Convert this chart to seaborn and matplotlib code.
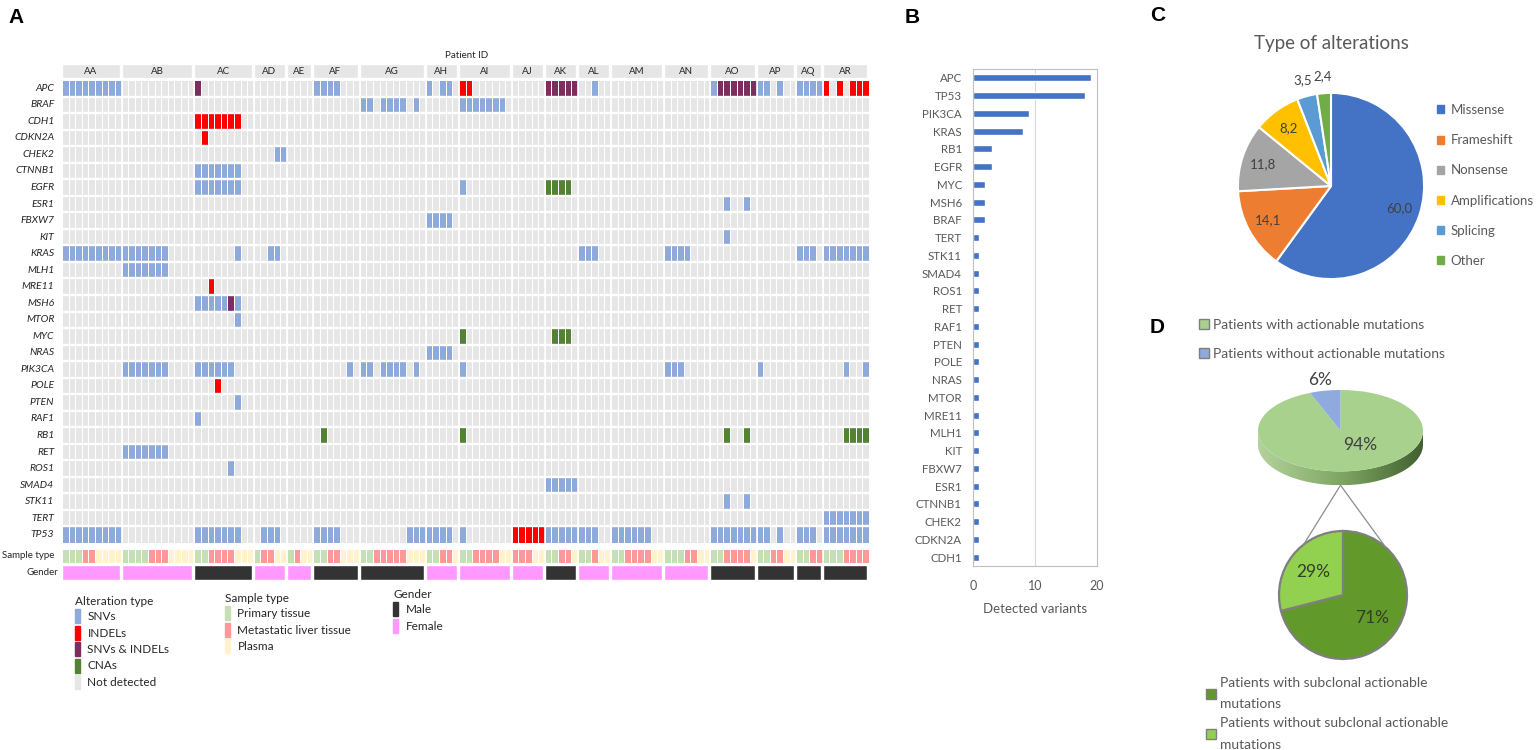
import numpy as np
import pandas as pd
import matplotlib
matplotlib.use("Agg")
import matplotlib.pyplot as plt
from matplotlib.colors import ListedColormap, LinearSegmentedColormap
from matplotlib.patches import Patch, Polygon, ConnectionPatch
import seaborn as sns

# ---------------- panel A data ----------------
patients = ["AA", "AB", "AC", "AD", "AE", "AF", "AG", "AH", "AI",
            "AJ", "AK", "AL", "AM", "AN", "AO", "AP", "AQ", "AR"]
# one letter per sample: G primary tissue, M metastatic liver tissue, P plasma
sample_type = ["GGGMMPPPP", "GGGGMMMPPPP", "GGMMMMPPP", "GMMPP", "GMPP", "GGMMPPP",
               "GGMMMMMPPP", "GGMMP", "GGMMMMPP", "MMMPP", "GGMMP", "GGMPP",
               "GGMMMMPP", "GGGMMPP", "GGMMMMP", "GGMMPP", "GGMM", "GGGMMMM"]
gender = ["F", "F", "M", "F", "F", "M", "M", "F", "F",
          "F", "M", "F", "F", "F", "M", "M", "M", "M"]
genes = ["APC", "BRAF", "CDH1", "CDKN2A", "CHEK2", "CTNNB1", "EGFR", "ESR1", "FBXW7",
         "KIT", "KRAS", "MLH1", "MRE11", "MSH6", "MTOR", "MYC", "NRAS", "PIK3CA",
         "POLE", "PTEN", "RAF1", "RB1", "RET", "ROS1", "SMAD4", "STK11", "TERT", "TP53"]
# gene, patient, per-sample pattern (s SNV, i INDEL, b SNV & INDEL, c CNA, . none)
hits = [
    ("APC", "AA", "sssssssss"), ("APC", "AC", "b"), ("APC", "AF", "ssss"),
    ("APC", "AH", "s.ss"), ("APC", "AI", "ii"), ("APC", "AK", "bbbbb"),
    ("APC", "AL", "..s"), ("APC", "AO", "sbbbbbb"), ("APC", "AP", "ss.s"),
    ("APC", "AQ", "ssss"), ("APC", "AR", "i.i.iii"),
    ("BRAF", "AG", "ss.ssss.s"), ("BRAF", "AI", "sssssss"),
    ("CDH1", "AC", "iiiiiii"),
    ("CDKN2A", "AC", ".i"),
    ("CHEK2", "AD", "...ss"),
    ("CTNNB1", "AC", "sssssss"),
    ("EGFR", "AC", "sssssss"), ("EGFR", "AI", "s"), ("EGFR", "AK", "cccc"),
    ("ESR1", "AO", "..s..s"),
    ("FBXW7", "AH", "ssss"),
    ("KIT", "AO", "..s"),
    ("KRAS", "AA", "sssssssss"), ("KRAS", "AB", "sssssss"), ("KRAS", "AC", "......s"),
    ("KRAS", "AD", "..ss"), ("KRAS", "AL", "sss"), ("KRAS", "AN", "ssss"),
    ("KRAS", "AQ", "sss"), ("KRAS", "AR", "sssssss"),
    ("MLH1", "AB", "sssssss"),
    ("MRE11", "AC", "..i"),
    ("MSH6", "AC", "sssssbs"),
    ("MTOR", "AC", "......s"),
    ("MYC", "AI", "c"), ("MYC", "AK", ".ccc"),
    ("NRAS", "AH", "ssss"),
    ("PIK3CA", "AB", "sssssss"), ("PIK3CA", "AC", "ssssss"), ("PIK3CA", "AF", ".....s"),
    ("PIK3CA", "AG", "ss.ssss.s"), ("PIK3CA", "AI", "s"), ("PIK3CA", "AN", "sss"),
    ("PIK3CA", "AP", "s"), ("PIK3CA", "AR", "...s..s"),
    ("POLE", "AC", "...i"),
    ("PTEN", "AC", "......s"),
    ("RAF1", "AC", "s"),
    ("RB1", "AF", ".c"), ("RB1", "AI", "c"), ("RB1", "AO", "..c..c"), ("RB1", "AR", "...cccc"),
    ("RET", "AB", "sssssss"),
    ("ROS1", "AC", ".....s"),
    ("SMAD4", "AK", "sssss"),
    ("STK11", "AO", "..s..s"),
    ("TERT", "AR", "sssssss"),
    ("TP53", "AA", "sssssssss"), ("TP53", "AC", "sssssss"), ("TP53", "AD", ".sss"),
    ("TP53", "AF", "ssss"), ("TP53", "AG", ".......sss"), ("TP53", "AH", "ssss"),
    ("TP53", "AI", "s"), ("TP53", "AJ", "iiiii"), ("TP53", "AK", "sssss"),
    ("TP53", "AL", "sss"), ("TP53", "AM", "ssssss"), ("TP53", "AO", "sssssss"),
    ("TP53", "AP", "ss.s"), ("TP53", "AQ", "sss"), ("TP53", "AR", "sssssss"),
]
alt_names = ["SNVs", "INDELs", "SNVs & INDELs", "CNAs", "Not detected"]
st_names = ["Primary tissue", "Metastatic liver tissue", "Plasma"]

# ---------------- panel B data ----------------
b_genes = ["APC", "TP53", "PIK3CA", "KRAS", "RB1", "EGFR", "MYC", "MSH6", "BRAF", "TERT",
           "STK11", "SMAD4", "ROS1", "RET", "RAF1", "PTEN", "POLE", "NRAS", "MTOR",
           "MRE11", "MLH1", "KIT", "FBXW7", "ESR1", "CTNNB1", "CHEK2", "CDKN2A", "CDH1"]
b_counts = [19, 18, 9, 8, 3, 3, 2, 2, 2, 1, 1, 1, 1, 1, 1, 1, 1, 1, 1, 1, 1, 1, 1, 1, 1, 1, 1, 1]

# ---------------- panel C data ----------------
alt_types = ["Missense", "Frameshift", "Nonsense", "Amplifications", "Splicing", "Other"]
alt_pct = [60.0, 14.1, 11.8, 8.2, 3.5, 2.4]

# ---------------- panel D data ----------------
act_labels = ["Patients with actionable mutations", "Patients without actionable mutations"]
act_pct = [94, 6]
sub_labels = ["Patients with subclonal actionable\nmutations",
              "Patients without subclonal actionable\nmutations"]
sub_pct = [71, 29]

# colours
alt_colors = ["#e7e6e6", "#8eaadb", "#ff0000", "#7e2d5e", "#548235"]
st_colors = ["#c5e0b4", "#ff9999", "#fff2cc"]
gender_colors = {"M": "#333333", "F": "#ff99ff"}
pie_colors = ["#4472c4", "#ed7d31", "#a5a5a5", "#ffc000", "#5b9bd5", "#70ad47"]

sns.set_style("white")
plt.rcParams["font.family"] = ["Lato", "DejaVu Sans"]

W, H = 1536, 750
fig = plt.figure(figsize=(W / 100, H / 100), dpi=100)


def px(x0, y0, x1, y1):
    return [x0 / W, 1 - y1 / H, (x1 - x0) / W, (y1 - y0) / H]


# ---------------- A: oncoprint ----------------
sizes = np.array([len(s) for s in sample_type])
starts = np.concatenate([[0], np.cumsum(sizes)[:-1]])
ncol = sizes.sum()
code = {".": 0, "s": 1, "i": 2, "b": 3, "c": 4}
mat = np.zeros((len(genes), ncol))
for g, p, pat in hits:
    k = patients.index(p)
    for j, ch in enumerate(pat[:sizes[k]]):
        mat[genes.index(g), starts[k] + j] = code[ch]
df = pd.DataFrame(mat, index=genes)

axA = fig.add_axes(px(62, 80, 869, 543))
sns.heatmap(df, ax=axA, cmap=ListedColormap(alt_colors), vmin=-0.5, vmax=4.5, cbar=False,
            linewidths=0.5, linecolor="white", xticklabels=False, yticklabels=True)
for r in range(1, len(genes)):
    axA.axhline(r, color="white", lw=1.7)
for b in starts[1:]:
    axA.axvline(b, color="white", lw=1.2)
axA.tick_params(left=False, pad=2)
for t in axA.get_yticklabels():
    t.set_rotation(0)
    t.set_fontstyle("italic")
    t.set_fontsize(7.5)
    t.set_color("#262626")

st_code = {"G": 0, "M": 1, "P": 2}
st = pd.DataFrame([[st_code[c] for c in "".join(sample_type)]], index=["Sample type"])
axS = fig.add_axes(px(62, 549, 869, 563))
sns.heatmap(st, ax=axS, cmap=ListedColormap(st_colors), vmin=-0.5, vmax=2.5, cbar=False,
            linewidths=0.5, linecolor="white", xticklabels=False, yticklabels=True)
for b in starts[1:]:
    axS.axvline(b, color="white", lw=1.2)
axS.tick_params(left=False, pad=2)
for t in axS.get_yticklabels():
    t.set_rotation(0)
    t.set_fontsize(7)
    t.set_color("#262626")

axG = fig.add_axes(px(62, 565, 869, 580))
axG.bar(starts, 1, width=sizes - 0.3, align="edge", color=[gender_colors[g] for g in gender])
axG.set_xlim(0, ncol)
axG.set_ylim(0, 1)
axG.axis("off")
axG.text(-0.5, 0.5, "Gender", ha="right", va="center", fontsize=7, color="#262626")

axH = fig.add_axes(px(62, 64, 869, 78))
axH.bar(starts, 1, width=sizes - 0.3, align="edge", color="#e7e6e6")
for s0, n, p in zip(starts, sizes, patients):
    axH.text(s0 + (n - 0.3) / 2, 0.5, p, ha="center", va="center", fontsize=7, color="#262626")
axH.set_xlim(0, ncol)
axH.set_ylim(0, 1)
axH.axis("off")
fig.text(467 / W, 1 - 55 / H, "Patient ID", ha="center", va="center", fontsize=7, color="#262626")

leg_kw = dict(loc="upper left", frameon=False, fontsize=8.5, title_fontsize=8.5,
              handlelength=0.45, handleheight=1.45, handletextpad=0.6, labelspacing=0.2,
              borderpad=0, borderaxespad=0, alignment="left", labelcolor="#262626")
fig.legend(handles=[Patch(color=alt_colors[i], label=n) for i, n in zip([1, 2, 3, 4, 0], alt_names)],
           bbox_to_anchor=(75 / W, 1 - 596 / H), title="Alteration type", **leg_kw)
fig.legend(handles=[Patch(color=c, label=n) for c, n in zip(st_colors, st_names)],
           bbox_to_anchor=(225 / W, 1 - 593 / H), title="Sample type", **leg_kw)
fig.legend(handles=[Patch(color=gender_colors["M"], label="Male"),
                    Patch(color=gender_colors["F"], label="Female")],
           bbox_to_anchor=(393 / W, 1 - 589 / H), title="Gender", **leg_kw)

# ---------------- B: detected variants ----------------
axB = fig.add_axes(px(973, 69, 1097, 566))
sns.barplot(x=b_counts, y=b_genes, orient="h", color="#4472c4", saturation=1, width=0.4, ax=axB)
axB.set_xlim(0, 20)
axB.set_xticks([0, 10, 20])
axB.axvline(10, color="#d9d9d9", lw=0.8, zorder=0)
for sp in axB.spines.values():
    sp.set_visible(True)
    sp.set_color("#bfbfbf")
    sp.set_linewidth(0.8)
axB.tick_params(length=0, labelsize=8.3, labelcolor="#595959")
axB.tick_params(axis="y", pad=8)
axB.tick_params(axis="x", pad=10, labelsize=9)
axB.set_xlabel("Detected variants", fontsize=9.5, color="#595959", labelpad=8)
axB.set_ylabel("")

# ---------------- C: type of alterations ----------------
axC = fig.add_axes(px(1331 - 121, 186 - 121, 1331 + 121, 186 + 121))
wedges, _, autos = axC.pie(alt_pct, colors=pie_colors, startangle=90, counterclock=False,
                           autopct="%1.1f", pctdistance=0.77,
                           wedgeprops=dict(edgecolor="white", linewidth=1.5),
                           textprops=dict(color="#404040", fontsize=9.5))
for w, t, v in zip(wedges, autos, alt_pct):
    t.set_text(f"{v:.1f}".replace(".", ","))
    if v < 5:
        a = np.deg2rad((w.theta1 + w.theta2) / 2)
        t.set_position((1.2 * np.cos(a), 1.18 * np.sin(a)))
axC.set_xlim(-1.3, 1.3)
axC.set_ylim(-1.3, 1.3)
fig.text(1331 / W, 1 - 43 / H, "Type of alterations", ha="center", va="center",
         fontsize=13.5, color="#595959")
fig.legend(handles=[Patch(color=c, label=l) for c, l in zip(pie_colors, alt_types)],
           loc="upper left", bbox_to_anchor=(1437 / W, 1 - 104 / H), frameon=False,
           fontsize=9.5, handlelength=0.55, handleheight=0.55, handletextpad=0.5,
           labelspacing=1.38, labelcolor="#595959", borderpad=0, borderaxespad=0)

# ---------------- D: actionable mutations ----------------
d = 0.34
axD1 = fig.add_axes(px(1240, 380, 1441, 500))
theta = np.linspace(np.pi, 2 * np.pi, 120)
band = np.vstack([np.column_stack([np.cos(theta), np.sin(theta)]),
                  np.column_stack([np.cos(theta[::-1]), np.sin(theta[::-1]) - d])])
side = Polygon(band, closed=True, facecolor="none", edgecolor="none")
axD1.add_patch(side)
side_cmap = LinearSegmentedColormap.from_list("side", ["#b3d29c", "#7fa763", "#435f30"])
axD1.imshow(np.linspace(0, 1, 256).reshape(1, -1), extent=(-1, 1, -1 - d, 0), aspect="auto",
            cmap=side_cmap, clip_path=side, zorder=1)
w1, _, a1 = axD1.pie(act_pct, colors=["#a9d18e", "#8faadc"], startangle=90, counterclock=False,
                     autopct="%1.0f%%", pctdistance=0.4,
                     wedgeprops=dict(edgecolor="none", zorder=2),
                     textprops=dict(color="#404040", fontsize=12.5))
a1[0].set_position((0.24, -0.35))
ang = np.deg2rad((w1[1].theta1 + w1[1].theta2) / 2)
a1[1].set_position((1.3 * np.cos(ang), 1.28 * np.sin(ang)))
axD1.set_aspect("auto")
axD1.set_xlim(-100.5 / 82.5, 100.5 / 82.5)
axD1.set_ylim(-69.3 / 40.7, 50.7 / 40.7)
axD1.axis("off")

axD2 = fig.add_axes(px(1343 - 83.2, 595 - 83.2, 1343 + 83.2, 595 + 83.2))
w2, _, a2 = axD2.pie(sub_pct, colors=["#62992b", "#92d050"], startangle=90, counterclock=False,
                     autopct="%1.0f%%", pctdistance=0.58,
                     wedgeprops=dict(edgecolor="#7f7f7f", linewidth=1.6),
                     textprops=dict(color="#333f26", fontsize=12.5))
axD2.set_xlim(-1.3, 1.3)
axD2.set_ylim(-1.3, 1.3)

for deg in (128, 48):
    r = np.deg2rad(deg)
    fig.add_artist(ConnectionPatch(xyA=(0, -1 - d), coordsA=axD1.transData,
                                   xyB=(np.cos(r), np.sin(r)), coordsB=axD2.transData,
                                   color="#8c8c8c", lw=0.9))

fig.legend(handles=[Patch(facecolor="#a9d18e", edgecolor="#7f7f7f", label=act_labels[0]),
                    Patch(facecolor="#8faadc", edgecolor="#7f7f7f", label=act_labels[1])],
           loc="upper left", bbox_to_anchor=(1199 / W, 1 - 319 / H), frameon=False,
           fontsize=10, handlelength=0.7, handleheight=0.7, handletextpad=0.3,
           labelspacing=1.2, labelcolor="#595959", borderpad=0, borderaxespad=0)
legD2 = fig.legend(handles=[Patch(facecolor="#62992b", edgecolor="#7f7f7f", label=sub_labels[0]),
                            Patch(facecolor="#92d050", edgecolor="#7f7f7f", label=sub_labels[1])],
                   loc="upper left", bbox_to_anchor=(1206 / W, 1 - 677 / H), frameon=False,
                   fontsize=10, handlelength=0.7, handleheight=0.7, handletextpad=0.3,
                   labelspacing=0.5, labelcolor="#595959", borderpad=0, borderaxespad=0)
for t in legD2.get_texts():
    t.set_linespacing(1.95)

# panel letters
for x, y, s in [(8, 8, "A"), (905, 8, "B"), (1150, 6, "C"), (1150, 318, "D")]:
    fig.text(x / W, 1 - y / H, s, ha="left", va="top", fontsize=15, fontweight="bold",
             family="Liberation Sans", color="black")

fig.savefig("out.png", dpi=100, facecolor="white")
